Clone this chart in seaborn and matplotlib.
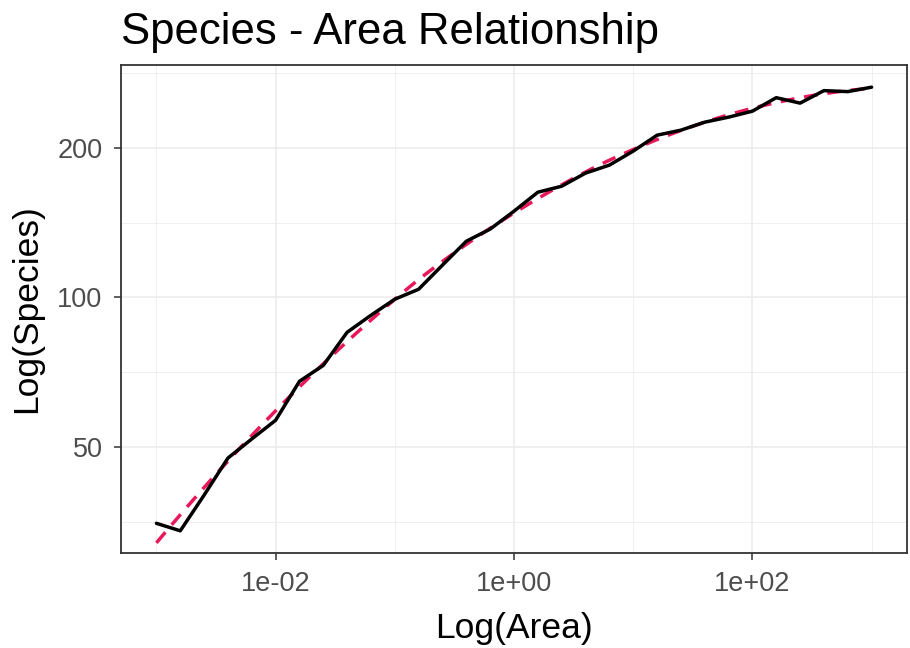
import numpy as np
import pandas as pd
import matplotlib
matplotlib.use("Agg")
import matplotlib.pyplot as plt
import seaborn as sns
from matplotlib.ticker import FixedLocator, NullFormatter, FixedFormatter

# Sampled areas (log10 exponents) and the species count observed at each
area_exponent = [-3.0, -2.8, -2.6, -2.4, -2.2, -2.0, -1.8, -1.6, -1.4, -1.2,
                 -1.0, -0.8, -0.6, -0.4, -0.2, 0.0, 0.2, 0.4, 0.6, 0.8,
                 1.0, 1.2, 1.4, 1.6, 1.8, 2.0, 2.2, 2.4, 2.6, 2.8, 3.0]
species = [35.1, 33.9, 40.0, 47.5, 51.9, 56.6, 67.8, 73.0, 85.1, 92.1,
           99.2, 103.9, 116.2, 129.8, 137.3, 149.2, 162.9, 167.5, 178.0, 184.7,
           197.1, 212.2, 217.2, 225.4, 230.7, 237.2, 252.5, 246.2, 260.9, 259.7,
           265.1]

x_breaks = [1e-2, 1e0, 1e2]
x_labels = ["1e-02", "1e+00", "1e+02"]
y_breaks = [50, 100, 200]
y_labels = ["50", "100", "200"]

df = pd.DataFrame({"area": np.power(10.0, area_exponent), "species": species})


def loess(x, y, xs, span=0.75):
    """Local quadratic regression with tricube weights (loess, degree 2)."""
    n = len(x)
    k = int(np.ceil(span * n))
    out = np.empty(len(xs))
    for i, x0 in enumerate(xs):
        d = np.abs(x - x0)
        h = np.sort(d)[k - 1]
        w = np.clip(1 - (d / h) ** 3, 0, None) ** 3
        X = np.column_stack([np.ones(n), x - x0, (x - x0) ** 2])
        W = np.sqrt(w)
        beta = np.linalg.lstsq(X * W[:, None], y * W, rcond=None)[0]
        out[i] = beta[0]
    return out


# Smooth trend computed in log-log space
lx = np.log10(df["area"].to_numpy())
ly = np.log10(df["species"].to_numpy())
grid_lx = np.linspace(lx.min(), lx.max(), 80)
fit = pd.DataFrame({"area": 10 ** grid_lx, "species": 10 ** loess(lx, ly, grid_lx)})

sns.set_theme(style="white")
plt.rcParams["font.family"] = ["Liberation Sans", "DejaVu Sans"]

fig = plt.figure(figsize=(9.10, 6.48), dpi=100)
ax = fig.add_axes([0.1326, 0.1466, 0.8645, 0.7531])

grid_col = "#EBEBEB"
ax.set_xscale("log")
ax.set_yscale("log")

sns.lineplot(data=fit, x="area", y="species", ax=ax, color="#E8185A",
             linewidth=2.5, linestyle=(0, (4.0, 2.8)), zorder=3)
sns.lineplot(data=df, x="area", y="species", ax=ax, color="black",
             linewidth=2.5, zorder=4)

# Limits with 5% expansion in transformed space
xr = (lx.min(), lx.max())
xpad = 0.05 * (xr[1] - xr[0])
ax.set_xlim(10 ** (xr[0] - xpad), 10 ** (xr[1] + xpad))
yr = (ly.min(), ly.max())
ypad = 0.05 * (yr[1] - yr[0])
ax.set_ylim(10 ** (yr[0] - ypad), 10 ** (yr[1] + ypad))

ax.xaxis.set_major_locator(FixedLocator(x_breaks))
ax.xaxis.set_major_formatter(FixedFormatter(x_labels))
ax.xaxis.set_minor_locator(FixedLocator([1e-3, 1e-1, 1e1, 1e3]))
ax.xaxis.set_minor_formatter(NullFormatter())
ax.yaxis.set_major_locator(FixedLocator(y_breaks))
ax.yaxis.set_major_formatter(FixedFormatter(y_labels))
ax.yaxis.set_minor_locator(FixedLocator([50 / np.sqrt(2), 100 / np.sqrt(2),
                                         200 / np.sqrt(2), 400 / np.sqrt(2)]))
ax.yaxis.set_minor_formatter(NullFormatter())

ax.grid(True, which="major", color=grid_col, linewidth=1.1, zorder=0)
ax.grid(True, which="minor", color=grid_col, linewidth=0.55, zorder=0)
ax.set_axisbelow(True)

for s in ax.spines.values():
    s.set_color("#333333")
    s.set_linewidth(1.3)

ax.tick_params(axis="both", which="major", direction="out", length=5, width=1.1,
               color="#333333", labelcolor="#4D4D4D", labelsize=19.5, pad=8,
               bottom=True, left=True)
ax.tick_params(axis="both", which="minor", length=0)

ax.set_xlabel("Log(Area)", fontsize=25.5, color="black", labelpad=11)
ax.set_ylabel("Log(Species)", fontsize=25.5, color="black", labelpad=10)
ax.set_title("Species - Area Relationship", fontsize=31.5, color="black",
             loc="left", pad=15)

fig.savefig("out.png", dpi=100, facecolor="white")
